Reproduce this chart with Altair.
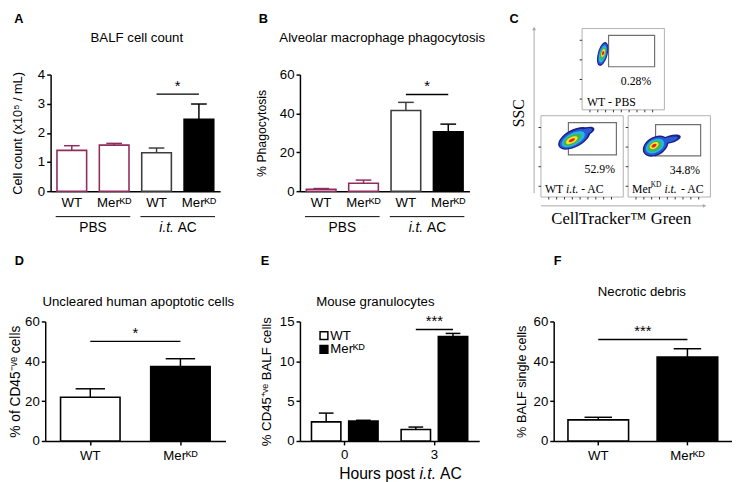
import altair as alt
import pandas as pd

FONT = "Liberation Sans"
SERIF = "Liberation Serif"
MER = "Merᴷᴰ"
MAROON = "#8F2D5D"
GREY = "#3d3d3d"

# ---------------- Panel A : BALF cell count ----------------
a_keys = ["WT|PBS", MER + "|PBS", "WT|AC", MER + "|AC"]
a_mean = [1.40, 1.58, 1.32, 2.47]
a_sem = [0.16, 0.06, 0.16, 0.52]
a_sig = (2, 3, 3.33, "*")
# ---------------- Panel B : phagocytosis ----------------
b_mean = [1.0, 4.1, 41.5, 30.5]
b_sem = [0.35, 1.6, 4.2, 4.0]
b_sig = (2, 3, 49.8, "*")
ab_fill = ["white", "white", "white", "black"]
ab_line = [MAROON, MAROON, GREY, "black"]
ab_group_plain = ["PBS", "AC"]
ab_group_italic = ["", "i.t."]
ab_group_first = [0, 2]
ab_group_last = [1, 3]
# ---------------- Panel D : uncleared apoptotic cells ----------------
d_keys = ["WT", MER]
d_mean = [22.0, 37.4]
d_sem = [4.2, 3.9]
d_sig = (0, 1, 50.0, "*")
# ---------------- Panel E : granulocytes ----------------
e_hours = ["0", "0", "3", "3"]
e_geno = ["WT", MER, "WT", MER]
e_mean = [2.4, 2.5, 1.45, 13.1]
e_sem = [1.1, 0.1, 0.3, 0.4]
e_sig = (2, 3, 14.0, "***")
e_legend = ["WT", MER]
e_legend_fill = ["white", "black"]
# ---------------- Panel F : necrotic debris ----------------
f_mean = [10.6, 42.2]
f_sem = [1.3, 4.1]
f_sig = (0, 1, 51.0, "***")
df_fill = ["white", "black"]
df_line = ["black", "black"]

# ---------------- Panel C : flow cytometry schematic ----------------
flow_pct = ["0.28%", "52.9%", "34.8%"]
flow_x0 = [29, -13, 76]
flow_y0 = [-47, 42, 42]
FLOW_W, FLOW_H = 84, 83
gate_x1 = [27, 28, 28]
gate_x2 = [74, 77, 74]
gate_y1 = [7, 7, 9]
gate_y2 = [39, 40, 41]
pct_x = [55, 60, 58]
pct_y = [54, 54, 55]
frame_tick_left = [12, 32, 52, 72]
frame_tick_bottom = [8, 16, 24, 32, 40, 48, 56, 64, 72]
blob_plot = [0, 0, 0, 0, 0, 0,
             1, 1, 1, 1, 1, 1, 1, 1,
             2, 2, 2, 2, 2, 2, 2, 2]
blob_lvl = [0, 1, 2, 3, 4, 5,
            0, 1, 0, 1, 2, 3, 4, 5,
            0, 1, 0, 1, 2, 3, 4, 5]
blob_cx = [21, 21, 21, 21, 21.5, 21.5,
           46, 45, 34, 33.5, 33, 32, 31.5, 31.5,
           43, 42, 28, 28, 27.5, 27, 26.5, 26.5]
blob_cy = [26, 26, 26, 25.5, 25, 25,
           16, 16.5, 23, 23.5, 24, 24.5, 25, 25,
           24, 24.5, 31, 31, 31, 31, 30.5, 30.5]
blob_w = [25, 22, 18, 13, 8.5, 4.5,
          18, 15, 36, 32, 26, 20, 13, 7,
          22, 18, 28, 25, 20, 15, 10, 5.5]
blob_h = [10, 8.5, 6.5, 5, 3.5, 2.2,
          8, 5.5, 18, 15, 12, 9, 6, 3,
          8, 5, 19, 16, 13, 9.5, 6, 3.2]
blob_angle = [105] * 6 + [340, 340] + [332] * 6 + [345, 345] + [330] * 6
LEVEL_COLORS = ["#1d2085", "#2a5bd7", "#23b7e5", "#43b649", "#f4e42b", "#e8231b"]


def label(text, x, y, size=13.5, italic=False, bold=False, align="center",
          baseline="middle", font=FONT, angle=None, color="black"):
    kw = dict(fontSize=size, font=font, align=align, baseline=baseline, color=color)
    if italic:
        kw["fontStyle"] = "italic"
    if bold:
        kw["fontWeight"] = "bold"
    if angle is not None:
        kw["angle"] = angle
    return alt.Chart(pd.DataFrame({"t": [text]})).mark_text(**kw).encode(
        x=alt.value(x), y=alt.value(y), text="t:N")


def square(x, y, fill):
    return alt.Chart(pd.DataFrame({"f": [fill]})).mark_point(
        shape="square", size=64, filled=True, stroke="black", strokeWidth=1.5, opacity=1).encode(
        x=alt.value(x), y=alt.value(y), fill=alt.Fill("f:N", scale=None))


def bar_panel(keys, means, sems, fills, lines, W, H, ymax, yvals, ytitle, tpad, tsize,
              title, tx, ty, letter, lx, ly, sig, band, cap, xticks, groups=None):
    n = len(keys)
    step = W / n
    df = pd.DataFrame({"key": keys, "mean": means,
                       "top": [m + s for m, s in zip(means, sems)],
                       "fill": fills, "line": lines,
                       "pos": [i + 0.5 for i in range(n)]})
    half = cap / 2 / step
    df["c1"] = df["pos"] - half
    df["c2"] = df["pos"] + half
    ysc = alt.Scale(domain=[0, ymax], nice=False, zero=False)
    yax = alt.Axis(title=ytitle, values=yvals, titlePadding=tpad, titleFontSize=tsize)
    xsc = alt.Scale(domain=keys, paddingInner=0, paddingOuter=0)
    xax = alt.Axis(title=None, labelExpr="split(datum.value, '|')[0]", labelAngle=0,
                   ticks=xticks, tickSize=4, labelPadding=4 if xticks else 5)
    bars = alt.Chart(df).mark_bar(width={"band": band}, strokeWidth=1.6).encode(
        x=alt.X("key:N", scale=xsc, axis=xax),
        y=alt.Y("mean:Q", scale=ysc, axis=yax),
        fill=alt.Fill("fill:N", scale=None),
        stroke=alt.Stroke("line:N", scale=None))
    q = alt.Scale(domain=[0, n], nice=False, zero=False)
    err = alt.Chart(df).mark_rule(strokeWidth=1.5).encode(
        x=alt.X("pos:Q", scale=q, axis=None),
        y=alt.Y("mean:Q", scale=ysc, axis=yax), y2="top:Q",
        color=alt.Color("line:N", scale=None))
    caps = alt.Chart(df).mark_rule(strokeWidth=1.5).encode(
        x=alt.X("c1:Q", scale=q, axis=None), x2="c2:Q",
        y=alt.Y("top:Q", scale=ysc, axis=yax),
        color=alt.Color("line:N", scale=None))
    i1, i2, yv, stars = sig
    sdf = pd.DataFrame({"x1": [i1 + 0.5], "x2": [i2 + 0.5], "xm": [(i1 + i2 + 1) / 2],
                        "y": [yv], "s": [stars]})
    srule = alt.Chart(sdf).mark_rule(strokeWidth=1.5, color="black").encode(
        x=alt.X("x1:Q", scale=q, axis=None), x2="x2:Q",
        y=alt.Y("y:Q", scale=ysc, axis=yax))
    stext = alt.Chart(sdf).mark_text(fontSize=15, font=FONT, baseline="alphabetic", dy=-3).encode(
        x=alt.X("xm:Q", scale=q, axis=None),
        y=alt.Y("y:Q", scale=ysc, axis=yax), text="s:N")
    ann = [err, caps, srule, stext]
    texts = [label(title, tx, ty), label(letter, lx, ly, size=13, bold=True, align="left",
                                         baseline="alphabetic")]
    if groups:
        plain, italic, first, last = groups
        gdf = pd.DataFrame({"first": first, "last": last})
        gdf["x1"] = gdf["first"] + 0.12
        gdf["x2"] = gdf["last"] + 0.88
        ann.append(alt.Chart(gdf).mark_rule(strokeWidth=1, color="black").encode(
            x=alt.X("x1:Q", scale=q, axis=None), x2="x2:Q", y=alt.value(H + 26)))
        for p, it, f, l in zip(plain, italic, first, last):
            xm = (f + l + 1) / 2 * step
            if it:
                texts.append(label(it, xm - 4, H + 38, size=14, italic=True, align="right"))
                texts.append(label(p, xm, H + 38, size=14, align="left"))
            else:
                texts.append(label(p, xm, H + 38, size=14))
    return alt.layer(alt.layer(bars), alt.layer(*ann), *texts).resolve_scale(
        x="independent").properties(width=W, height=H)


def panel_E():
    W, H = 183, 122
    hours = ["0", "3"]
    genos = ["WT", MER]
    pin, pout = 0.21, 0.31
    sstep = 1 / (2 - pin + 2 * pout)
    bw = sstep * (1 - pin)
    pos = [hours.index(h) + pout * sstep + genos.index(g) * sstep + bw / 2
           for h, g in zip(e_hours, e_geno)]
    df = pd.DataFrame({"hour": e_hours, "geno": e_geno, "mean": e_mean,
                       "top": [m + s for m, s in zip(e_mean, e_sem)], "pos": pos})
    half = 15 / 2 / (W / 2)
    df["c1"] = df["pos"] - half
    df["c2"] = df["pos"] + half
    ysc = alt.Scale(domain=[0, 15], nice=False, zero=False)
    yax = alt.Axis(title="% CD45⁺ᵛᵉ BALF cells", values=[0, 5, 10, 15], titlePadding=6,
                   titleFontSize=13.5)
    bars = alt.Chart(df).mark_bar(stroke="black", strokeWidth=1.6).encode(
        x=alt.X("hour:N", scale=alt.Scale(domain=hours, paddingInner=0, paddingOuter=0),
                axis=alt.Axis(title=None, labelAngle=0, ticks=True, tickSize=4, labelPadding=3)),
        xOffset=alt.XOffset("geno:N", scale=alt.Scale(domain=genos, paddingInner=pin,
                                                       paddingOuter=pout)),
        y=alt.Y("mean:Q", scale=ysc, axis=yax),
        fill=alt.Fill("geno:N", scale=alt.Scale(domain=genos, range=["white", "black"]),
                      legend=None))
    q = alt.Scale(domain=[0, 2], nice=False, zero=False)
    err = alt.Chart(df).mark_rule(strokeWidth=1.5, color="black").encode(
        x=alt.X("pos:Q", scale=q, axis=None),
        y=alt.Y("mean:Q", scale=ysc, axis=yax), y2="top:Q")
    caps = alt.Chart(df).mark_rule(strokeWidth=1.5, color="black").encode(
        x=alt.X("c1:Q", scale=q, axis=None), x2="c2:Q",
        y=alt.Y("top:Q", scale=ysc, axis=yax))
    i1, i2, yv, stars = e_sig
    sdf = pd.DataFrame({"x1": [pos[i1]], "x2": [pos[i2]], "xm": [(pos[i1] + pos[i2]) / 2],
                        "y": [yv], "s": [stars]})
    srule = alt.Chart(sdf).mark_rule(strokeWidth=1.5, color="black").encode(
        x=alt.X("x1:Q", scale=q, axis=None), x2="x2:Q", y=alt.Y("y:Q", scale=ysc, axis=yax))
    stext = alt.Chart(sdf).mark_text(fontSize=15, font=FONT, baseline="alphabetic", dy=-3).encode(
        x=alt.X("xm:Q", scale=q, axis=None), y=alt.Y("y:Q", scale=ysc, axis=yax), text="s:N")
    texts = [label("Mouse granulocytes", 77, -20),
             label("E", -40, -58, size=13, bold=True, align="left", baseline="alphabetic"),
             label("Hours post", 40, H + 34, size=16, align="left"),
             label("i.t.", 122, H + 34, size=16, italic=True, align="left"),
             label("AC", 143, H + 34, size=16, align="left")]
    for k, (name, fill) in enumerate(zip(e_legend, e_legend_fill)):
        texts.append(square(24.5, 14.5 + 14 * k, fill))
        texts.append(label(name, 31, 14.5 + 14 * k, size=13.5, align="left"))
    return alt.layer(alt.layer(bars), alt.layer(err, caps, srule, stext), *texts).resolve_scale(
        x="independent").properties(width=W, height=H)


def ellipse_path(r):
    return f"M-1,0A1,{r:.3f} 0 1,1 1,0A1,{r:.3f} 0 1,1 -1,0Z"


def panel_C():
    W, H = 182, 119
    xs = alt.Scale(domain=[0, W], nice=False, zero=False)
    ys = alt.Scale(domain=[0, H], nice=False, zero=False, reverse=True)
    boxes = pd.DataFrame({"x1": flow_x0, "y1": flow_y0,
                          "x2": [x + FLOW_W for x in flow_x0],
                          "y2": [y + FLOW_H for y in flow_y0]})
    box = alt.Chart(boxes).mark_rect(fill="white", stroke="#b0b0b0", strokeWidth=1).encode(
        x=alt.X("x1:Q", scale=xs, axis=None), x2="x2:Q",
        y=alt.Y("y1:Q", scale=ys, axis=None), y2="y2:Q")
    # small frame ticks just outside the left and bottom edges of each dot plot
    tk = []
    for i in range(3):
        for t in frame_tick_left:
            tk.append({"x1": flow_x0[i] - 2.5, "x2": flow_x0[i],
                       "y1": flow_y0[i] + t, "y2": flow_y0[i] + t})
        for t in frame_tick_bottom:
            tk.append({"x1": flow_x0[i] + t, "x2": flow_x0[i] + t,
                       "y1": flow_y0[i] + FLOW_H, "y2": flow_y0[i] + FLOW_H + 2.5})
    ticks = alt.Chart(pd.DataFrame(tk)).mark_rule(color="#333333", strokeWidth=1).encode(
        x=alt.X("x1:Q", scale=xs, axis=None), x2="x2:Q",
        y=alt.Y("y1:Q", scale=ys, axis=None), y2="y2:Q")
    gates = pd.DataFrame({"x1": [o + g for o, g in zip(flow_x0, gate_x1)],
                          "x2": [o + g for o, g in zip(flow_x0, gate_x2)],
                          "y1": [o + g for o, g in zip(flow_y0, gate_y1)],
                          "y2": [o + g for o, g in zip(flow_y0, gate_y2)]})
    gate = alt.Chart(gates).mark_rect(fillOpacity=0, stroke="#707070", strokeWidth=1.2).encode(
        x=alt.X("x1:Q", scale=xs, axis=None), x2="x2:Q",
        y=alt.Y("y1:Q", scale=ys, axis=None), y2="y2:Q")
    bl = pd.DataFrame({
        "x": [flow_x0[p] + c for p, c in zip(blob_plot, blob_cx)],
        "y": [flow_y0[p] + c for p, c in zip(blob_plot, blob_cy)],
        "size": [w * w for w in blob_w],
        "shape": [ellipse_path(h / w) for w, h in zip(blob_w, blob_h)],
        "angle": blob_angle,
        "color": [LEVEL_COLORS[l] for l in blob_lvl],
        "lvl": blob_lvl})
    blobs = alt.Chart(bl).mark_point(filled=True, opacity=1, strokeWidth=0).encode(
        x=alt.X("x:Q", scale=xs, axis=None), y=alt.Y("y:Q", scale=ys, axis=None),
        shape=alt.Shape("shape:N", scale=None), size=alt.Size("size:Q", scale=None),
        angle=alt.Angle("angle:Q", scale=None), fill=alt.Fill("color:N", scale=None),
        order=alt.Order("lvl:Q"))
    arrows = pd.DataFrame({"x1": [-20, -13], "y1": [121, 134], "x2": [-20, 154], "y2": [-47, 134],
                           "shape": ["triangle-up", "triangle-right"]})
    arr = alt.Chart(arrows).mark_rule(color="#a8a8a8", strokeWidth=1).encode(
        x=alt.X("x1:Q", scale=xs, axis=None), x2="x2:Q",
        y=alt.Y("y1:Q", scale=ys, axis=None), y2="y2:Q")
    heads = alt.Chart(arrows).mark_point(filled=True, size=16, color="#a8a8a8", opacity=1).encode(
        x=alt.X("x2:Q", scale=xs, axis=None), y=alt.Y("y2:Q", scale=ys, axis=None),
        shape=alt.Shape("shape:N", scale=None))
    texts = [label("C", -45, -53, size=13, bold=True, align="left", baseline="alphabetic"),
             label("SSC", -35.5, 39.5, size=16, font=SERIF, angle=270),
             label("CellTracker™ Green", 69, 148, size=17, font=SERIF)]
    for i in range(3):
        texts.append(label(flow_pct[i], flow_x0[i] + pct_x[i], flow_y0[i] + pct_y[i],
                           size=12, font=SERIF))
    texts.append(label("WT - PBS", flow_x0[0] + 5, flow_y0[0] + 75, size=12, font=SERIF,
                       align="left"))
    # WT i.t. - AC
    x0, y0 = flow_x0[1], flow_y0[1] + 75
    texts += [label("WT", x0 + 4, y0, size=12, font=SERIF, align="left"),
              label("i.t.", x0 + 25.5, y0, size=12, font=SERIF, italic=True, align="left"),
              label("- AC", x0 + 41, y0, size=12, font=SERIF, align="left")]
    # Mer^KD i.t. - AC
    x0, y0 = flow_x0[2], flow_y0[2] + 75
    texts += [label("Mer", x0 + 4, y0, size=12, font=SERIF, align="left"),
              label("KD", x0 + 23, y0 - 4, size=7.5, font=SERIF, align="left"),
              label("i.t.", x0 + 37, y0, size=12, font=SERIF, italic=True, align="left"),
              label("- AC", x0 + 54, y0, size=12, font=SERIF, align="left")]
    return alt.layer(arr, heads, box, ticks, gate, blobs, *texts).properties(width=W, height=H)


A = bar_panel(a_keys, a_mean, a_sem, ab_fill, ab_line, 173, 119, 4, [0, 1, 2, 3, 4],
              "Cell count  (x10⁵ / mL)", 13, 13, "BALF cell count", 88, -37, "A", -37, -53,
              a_sig, 0.7, 16, False,
              (ab_group_plain, ab_group_italic, ab_group_first, ab_group_last))
B = bar_panel(a_keys, b_mean, b_sem, ab_fill, ab_line, 173, 119, 60, [0, 20, 40, 60],
              "% Phagocytosis", 11, 12.5, "Alveolar macrophage phagocytosis", 84, -37, "B", -42, -53,
              b_sig, 0.7, 16, False,
              (ab_group_plain, ab_group_italic, ab_group_first, ab_group_last))
C = panel_C()
D = bar_panel(d_keys, d_mean, d_sem, df_fill, df_line, 184, 122, 60, [0, 20, 40, 60],
              "% of CD45⁻ᵛᵉ cells", 2, 14, "Uncleared human apoptotic cells", 95, -20, "D", -31, -58,
              d_sig, 0.66, 30, True)
E = panel_E()
F = bar_panel(d_keys, f_mean, f_sem, df_fill, df_line, 182, 122, 60, [0, 20, 40, 60],
              "% BALF single cells", 5, 13, "Necrotic debris", 90, -30, "F", 0, -58,
              f_sig, 0.68, 28, True)

chart = alt.concat(
    A, B, C, D, E, F, columns=3, bounds="flush", align="each",
    center={"row": False, "column": True},
    spacing={"row": 133, "column": 76},
).properties(
    padding={"left": 0, "top": 0, "right": 0, "bottom": 0}
).configure_view(stroke=None).configure_axis(
    labelFont=FONT, titleFont=FONT, labelColor="black", titleColor="black",
    domainColor="black", tickColor="black", domainWidth=1.5, tickWidth=1.5,
    tickSize=4, labelPadding=2, labelFontSize=13.5, titleFontSize=13,
    titleFontWeight="normal", grid=False
).configure_text(font=FONT)

chart.save("out.html", embed_options={"renderer": "svg", "actions": False})
